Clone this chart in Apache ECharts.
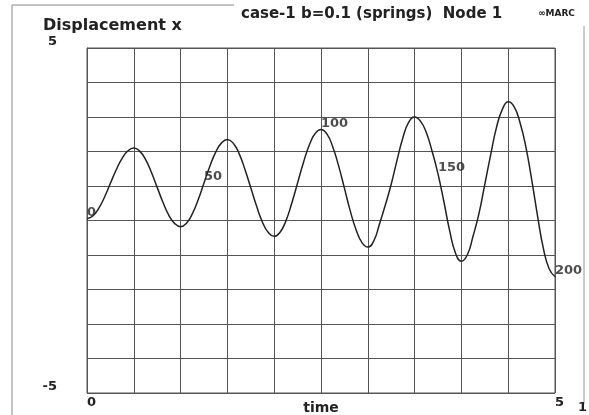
<!DOCTYPE html>
<html>
<head>
<meta charset="utf-8">
<script src="https://cdn.jsdelivr.net/npm/echarts@6/dist/echarts.min.js"></script>
<style>
  html, body { margin: 0; padding: 0; background: #fff; }
  #chart { width: 589px; height: 415px; }
</style>
</head>
<body>
<div id="chart"></div>
<script>
// ==================== 数据 ====================
const chartTitle = 'case-1 b=0.1 (springs)  Node 1'
const yName = 'Displacement x'
const xName = 'time'

// time samples (every 2.5 increments)
const timeValues = [
  0, 0.0625, 0.125, 0.1875, 0.25, 0.3125, 0.375, 0.4375,
  0.5, 0.5625, 0.625, 0.6875, 0.75, 0.8125, 0.875, 0.9375,
  1, 1.0625, 1.125, 1.1875, 1.25, 1.3125, 1.375, 1.4375,
  1.5, 1.5625, 1.625, 1.6875, 1.75, 1.8125, 1.875, 1.9375,
  2, 2.0625, 2.125, 2.1875, 2.25, 2.3125, 2.375, 2.4375,
  2.5, 2.5625, 2.625, 2.6875, 2.75, 2.8125, 2.875, 2.9375,
  3, 3.0625, 3.125, 3.1875, 3.25, 3.3125, 3.375, 3.4375,
  3.5, 3.5625, 3.625, 3.6875, 3.75, 3.8125, 3.875, 3.9375,
  4, 4.0625, 4.125, 4.1875, 4.25, 4.3125, 4.375, 4.4375,
  4.5, 4.5625, 4.625, 4.6875, 4.75, 4.8125, 4.875, 4.9375,
  5
]
const dispValues = [
  0.05, 0.13, 0.35, 0.68, 1.08, 1.47, 1.80, 2.02,
  2.1, 2.01, 1.77, 1.40, 0.96, 0.52, 0.15, -0.09,
  -0.18, -0.08, 0.19, 0.60, 1.09, 1.57, 1.98, 2.25,
  2.35, 2.24, 1.94, 1.48, 0.95, 0.41, -0.05, -0.35,
  -0.46, -0.34, -0.01, 0.50, 1.09, 1.68, 2.19, 2.52,
  2.64, 2.51, 2.14, 1.59, 0.94, 0.28, -0.27, -0.64,
  -0.77, -0.6, -0.1, 0.45, 1.05, 1.75, 2.4, 2.85,
  3.0, 2.88, 2.55, 2.0, 1.35, 0.55, -0.3, -0.95,
  -1.18, -1.0, -0.45, 0.2, 1.05, 1.9, 2.7, 3.22,
  3.44, 3.3, 2.85, 2.15, 1.2, 0.15, -0.8, -1.4,
  -1.63
]
// increment labels along the curve
const incLabels = ['0', '50', '100', '150', '200']
const incIndex = [0, 20, 40, 60, 80]

const xTickLabels = ['0', '5']
const yTickLabels = ['-5', '5']

const font = 'DejaVu Sans'
const ink = '#222'
const gridColor = '#555'

const chart = echarts.init(document.getElementById('chart'), null, { renderer: 'canvas' })

const curve = timeValues.map((t, i) => [t, dispValues[i]])
const marks = incIndex.map((idx, k) => [timeValues[idx], dispValues[idx], incLabels[k]])

const option = {
  backgroundColor: '#fff',
  animation: false,
  title: [
    {
      text: chartTitle,
      left: 236,
      top: 2,
      textStyle: { fontFamily: font, fontWeight: 'bold', fontSize: 15, color: ink }
    },
    {
      text: yName,
      left: 38,
      top: 13,
      textStyle: { fontFamily: font, fontWeight: 'bold', fontSize: 16, color: ink }
    }
  ],
  grid: {
    left: 87, top: 48, width: 468, height: 345,
    outerBoundsMode: 'none',
    containLabel: false,
    show: true, borderColor: gridColor, borderWidth: 1
  },
  xAxis: {
    type: 'value',
    min: 0, max: 5, interval: 0.5,
    name: xName,
    nameLocation: 'middle',
    nameGap: 8,
    nameMoveOverlap: false,
    nameTextStyle: { fontFamily: font, fontWeight: 'bold', fontSize: 14, color: ink },
    axisLine: { show: true, lineStyle: { color: gridColor, width: 1 } },
    axisTick: { show: false },
    splitLine: { show: true, lineStyle: { color: gridColor, width: 1 } },
    axisLabel: {
      margin: 3,
      align: 'left',
      fontFamily: font, fontWeight: 'bold', fontSize: 13, color: ink,
      formatter: v => (xTickLabels.includes(String(v)) ? String(v) : '')
    }
  },
  yAxis: {
    type: 'value',
    min: -5, max: 5, interval: 1,
    axisLine: { show: true, lineStyle: { color: gridColor, width: 1 } },
    axisTick: { show: false },
    splitLine: { show: true, lineStyle: { color: gridColor, width: 1 } },
    axisLabel: {
      margin: 30,
      verticalAlign: 'bottom',
      lineHeight: 12,
      fontFamily: font, fontWeight: 'bold', fontSize: 13, color: ink,
      formatter: v => (yTickLabels.includes(String(v)) ? String(v) : '')
    }
  },
  series: [
    {
      type: 'line',
      data: curve,
      smooth: true,
      symbol: 'none',
      lineStyle: { color: ink, width: 1.5 },
      z: 3
    },
    {
      type: 'scatter',
      data: marks,
      symbolSize: 0,
      itemStyle: { color: ink },
      label: {
        show: true,
        position: 'right',
        distance: 0,
        offset: [0, -6],
        formatter: p => p.value[2],
        fontFamily: font, fontWeight: 'bold', fontSize: 13, color: ink
      },
      z: 4
    }
  ],
  graphic: [
    {
      type: 'polyline',
      shape: { points: [[234, 5], [12, 5], [12, 415]] },
      style: { stroke: '#888', lineWidth: 1, fill: null }
    },
    {
      type: 'line',
      shape: { x1: 584, y1: 26, x2: 584, y2: 404 },
      style: { stroke: '#999', lineWidth: 1 }
    },
    {
      type: 'text',
      left: 538,
      top: 9,
      style: {
        text: '∞MARC',
        fontFamily: font, fontWeight: 'bold', fontSize: 9, fill: ink
      }
    },
    {
      type: 'text',
      left: 578,
      top: 401,
      style: {
        text: '1',
        fontFamily: font, fontWeight: 'bold', fontSize: 13, fill: ink
      }
    }
  ]
}

chart.setOption(option)
</script>
</body>
</html>
